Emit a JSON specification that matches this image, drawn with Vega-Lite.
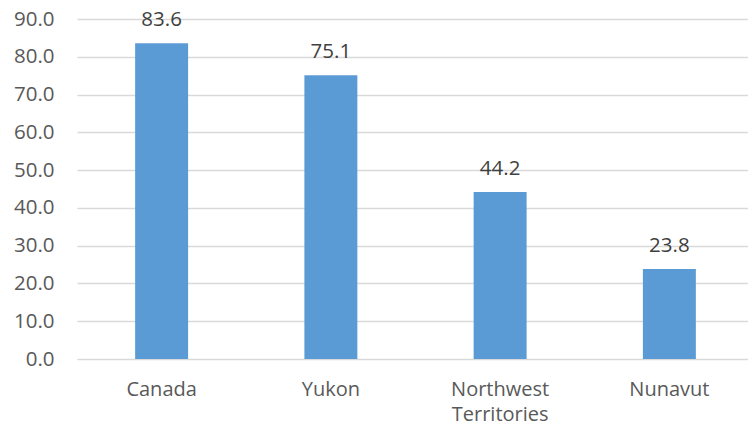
{
  "$schema": "https://vega.github.io/schema/vega-lite/v6.json",
  "autosize": {"type": "none"},
  "width": 671,
  "height": 340,
  "padding": {"left": 77, "top": 19, "right": 0, "bottom": 71},
  "background": "white",
  "data": {"values": [
    {"region": "Canada", "value": 83.6},
    {"region": "Yukon", "value": 75.1},
    {"region": "Northwest Territories", "value": 44.2},
    {"region": "Nunavut", "value": 23.8}
  ]},
  "config": {
    "view": {"stroke": null},
    "font": "Open Sans"
  },
  "encoding": {
    "x": {
      "field": "region", "type": "nominal", "sort": null,
      "scale": {"range": [0, 677], "paddingInner": 0.687, "paddingOuter": 0.3435},
      "axis": {
        "title": null, "domain": false, "ticks": false, "labelAngle": 0,
        "labelFontSize": 20, "labelColor": "#595959", "labelPadding": 20,
        "labelLineHeight": 25, "labelFont": "Open Sans",
        "labelExpr": "datum.label == 'Northwest Territories' ? ['Northwest', 'Territories'] : datum.label"
      }
    },
    "y": {
      "field": "value", "type": "quantitative",
      "scale": {"domain": [0, 90], "nice": false},
      "axis": {
        "title": null, "domain": false, "ticks": false,
        "values": [0, 10, 20, 30, 40, 50, 60, 70, 80, 90],
        "labelOverlap": false, "labelFlush": false, "labelBound": false,
        "format": ".1f", "labelFontSize": 20.5, "labelColor": "#595959",
        "labelPadding": 23, "labelFont": "Open Sans",
        "gridColor": "#D9D9D9", "gridWidth": 1.5
      }
    }
  },
  "layer": [
    {"mark": {"type": "bar", "color": "#5B9BD5"}},
    {
      "mark": {"type": "text", "baseline": "alphabetic", "dy": -17.5, "fontSize": 20.5, "color": "#404040", "font": "Open Sans"},
      "encoding": {"text": {"field": "value", "type": "quantitative", "format": ".1f"}}
    }
  ]
}
